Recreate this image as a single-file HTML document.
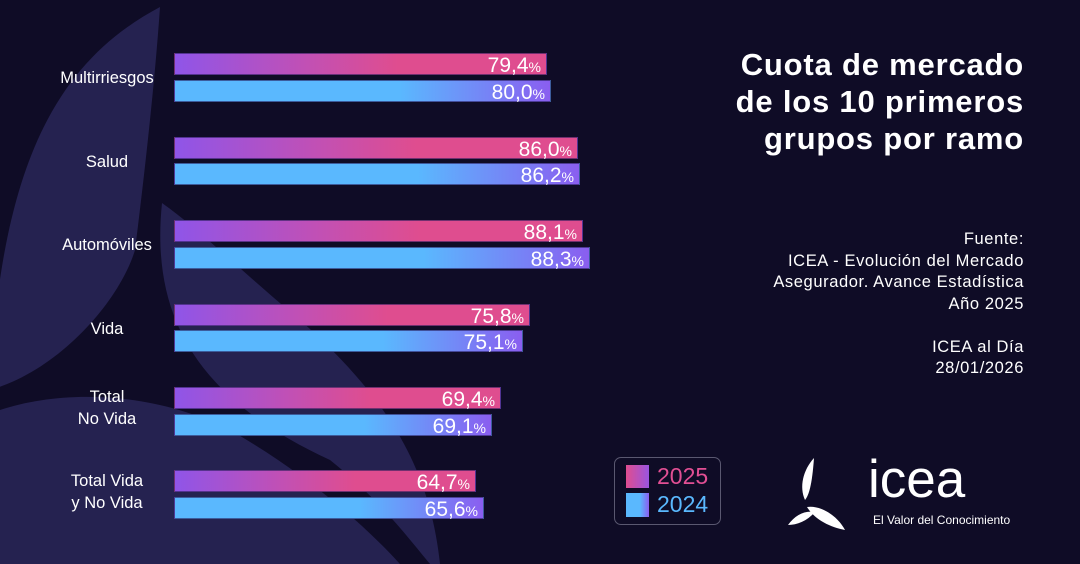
<!DOCTYPE html>
<html><head><meta charset="utf-8"><style>
body{margin:0;width:1080px;height:564px;background:#0f0c26;position:relative;overflow:hidden;font-family:"Liberation Sans",sans-serif;color:#fff}
.bar{position:absolute;left:174px;height:22px;box-sizing:border-box;border:1px solid rgba(40,30,90,.6);text-align:right;padding-right:5px;font-size:21px;line-height:23px}
.bar small{font-size:14px}
.a{background:linear-gradient(90deg,#8f55e8 0%,#c150b5 35%,#df4d8f 60%,#df4d8f 100%)}
.b{background:linear-gradient(90deg,#5ab8fe 0%,#5ab8fe 60%,#8a5ef0 100%)}
.lab{position:absolute;left:37px;width:140px;text-align:center;font-size:16.5px;line-height:22px}
.t{position:absolute;right:56px;text-align:right}
</style></head><body>
<svg width="1080" height="564" style="position:absolute;left:0;top:0">
<g fill="#252250">
<path d="M160 7 C60 60 0 160 -10 390 C60 370 120 300 135 250 C145 170 155 80 160 7Z"/>
<path d="M162 203 C150 320 200 400 330 460 C380 500 410 540 430 564 L440 564 C430 470 390 400 300 320 C240 270 200 230 162 203Z"/>
<path d="M0 410 C60 390 150 390 230 430 C300 470 360 520 400 564 L0 564Z"/>
</g>
</svg>
<div class="lab" style="top:67px">Multirriesgos</div>
<div class="lab" style="top:151px">Salud</div>
<div class="lab" style="top:234px">Automóviles</div>
<div class="lab" style="top:318px">Vida</div>
<div class="lab" style="top:386px">Total<br>No Vida</div>
<div class="lab" style="top:470px">Total Vida<br>y No Vida</div>

<div class="bar a" style="top:53px;width:373px">79,4<small>%</small></div>
<div class="bar b" style="top:80px;width:377px">80,0<small>%</small></div>
<div class="bar a" style="top:137px;width:404px">86,0<small>%</small></div>
<div class="bar b" style="top:163px;width:406px">86,2<small>%</small></div>
<div class="bar a" style="top:220px;width:409px">88,1<small>%</small></div>
<div class="bar b" style="top:247px;width:416px">88,3<small>%</small></div>
<div class="bar a" style="top:304px;width:356px">75,8<small>%</small></div>
<div class="bar b" style="top:330px;width:349px">75,1<small>%</small></div>
<div class="bar a" style="top:387px;width:327px">69,4<small>%</small></div>
<div class="bar b" style="top:414px;width:318px">69,1<small>%</small></div>
<div class="bar a" style="top:470px;width:302px">64,7<small>%</small></div>
<div class="bar b" style="top:497px;width:310px">65,6<small>%</small></div>

<div class="t" style="top:46px;font-size:31px;font-weight:bold;line-height:37px;letter-spacing:0.8px">Cuota de mercado<br>de los 10 primeros<br>grupos por ramo</div>
<div class="t" style="top:229px;font-size:16.5px;line-height:21.5px;letter-spacing:0.6px">Fuente:<br>ICEA - Evolución del Mercado<br>Asegurador. Avance Estadística<br>Año 2025<br><br>ICEA al Día<br>28/01/2026</div>

<div style="position:absolute;left:614px;top:457px;width:107px;height:68px;box-sizing:border-box;border:1px solid #5a5870;border-radius:7px"></div>
<div style="position:absolute;left:626px;top:465px;width:23px;height:23px;background:linear-gradient(90deg,#df4d8f,#9a55e0)"></div>
<div style="position:absolute;left:626px;top:493px;width:23px;height:24px;background:linear-gradient(90deg,#5ab8fe 60%,#8a5ef0)"></div>
<div style="position:absolute;left:657px;top:462px;font-size:23px;color:#e24f94;line-height:28px">2025<br><span style="color:#5ab8fe">2024</span></div>

<svg width="70" height="80" style="position:absolute;left:785px;top:455px" viewBox="0 0 70 80">
<g fill="#fff">
<path d="M29 3 C18 15 14 32 20 45 C24 40 27 30 29 3Z"/>
<path d="M22 52 C35 50 52 60 60 75 C45 72 30 65 22 52Z"/>
<path d="M3 70 C10 60 20 55 30 57 C22 66 12 70 3 70Z"/>
</g></svg>
<div style="position:absolute;left:868px;top:450px;font-size:53px;line-height:60px">icea</div>
<div style="position:absolute;left:873px;top:513px;font-size:12px">El Valor del Conocimiento</div>
</body></html>
